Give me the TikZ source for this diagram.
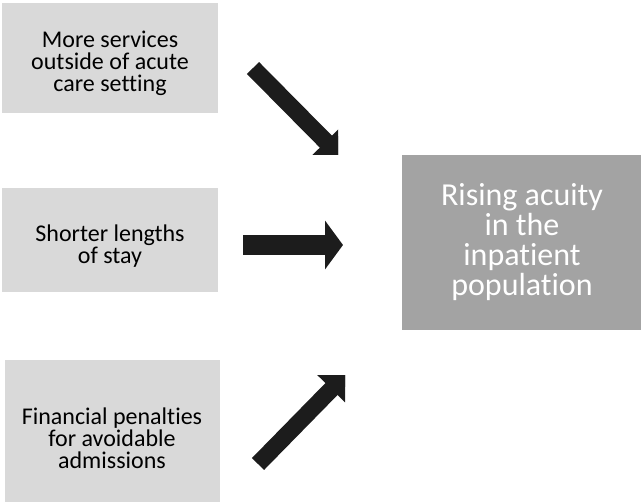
\documentclass[tikz,border=0pt]{standalone}
\usepackage{fontspec}
\setmainfont{Carlito}[Ligatures=NoCommon]
\usetikzlibrary{arrows.meta}
\definecolor{lightbox}{HTML}{D9D9D9}
\definecolor{darkbox}{HTML}{A3A3A3}
\definecolor{arrowc}{HTML}{1C1C1C}
\tikzset{
  causebox/.style={fill=lightbox, draw=none, align=center, text=black,
    font=\fontsize{24}{22}\selectfont},
  effectbox/.style={fill=darkbox, draw=none, align=center, text=white,
    font=\fontsize{32}{30}\selectfont},
  diagarrow/.style={draw=arrowc, line width=17pt,
    -{Triangle[width=38pt,length=30pt]}},
  flatarrow/.style={draw=arrowc, line width=20pt,
    -{Triangle[width=48pt,length=18pt]}},
}
\begin{document}
\begin{tikzpicture}[x=1pt,y=-1pt]
\useasboundingbox (0,0) rectangle (642,502);
% boxes
\fill[lightbox] (2,3) rectangle (218,113);
\node[causebox, fill=none] (b1) at (110,63) {More services\\outside of acute\\care setting};
\fill[lightbox] (2,188) rectangle (218,292);
\node[causebox, fill=none] (b2) at (110,246) {Shorter lengths\\of stay};
\fill[lightbox] (5,360) rectangle (220,502);
\node[causebox, fill=none] (b3) at (112,438) {Financial penalties\\for avoidable\\admissions};
\fill[darkbox] (402,155) rectangle (641,330);
\node[effectbox, fill=none] (e) at (522,242) {Rising acuity\\in the\\inpatient\\population};
% arrow end points
\coordinate (a1s) at (253,68);
\coordinate (a1e) at (347,163);
\coordinate (a2s) at (243,245);
\coordinate (a2e) at (343,245);
\coordinate (a3s) at (258,464);
\coordinate (a3e) at (352.5,367.6);
% arrows
\begin{scope}
  \clip (0,0) rectangle (338,155);
  \draw[diagarrow] (a1s) -- (a1e);
\end{scope}
\draw[flatarrow] (a2s) -- (a2e);
\begin{scope}
  \clip (0,375) rectangle (345,502);
  \draw[diagarrow] (a3s) -- (a3e);
\end{scope}
\end{tikzpicture}
\end{document}
